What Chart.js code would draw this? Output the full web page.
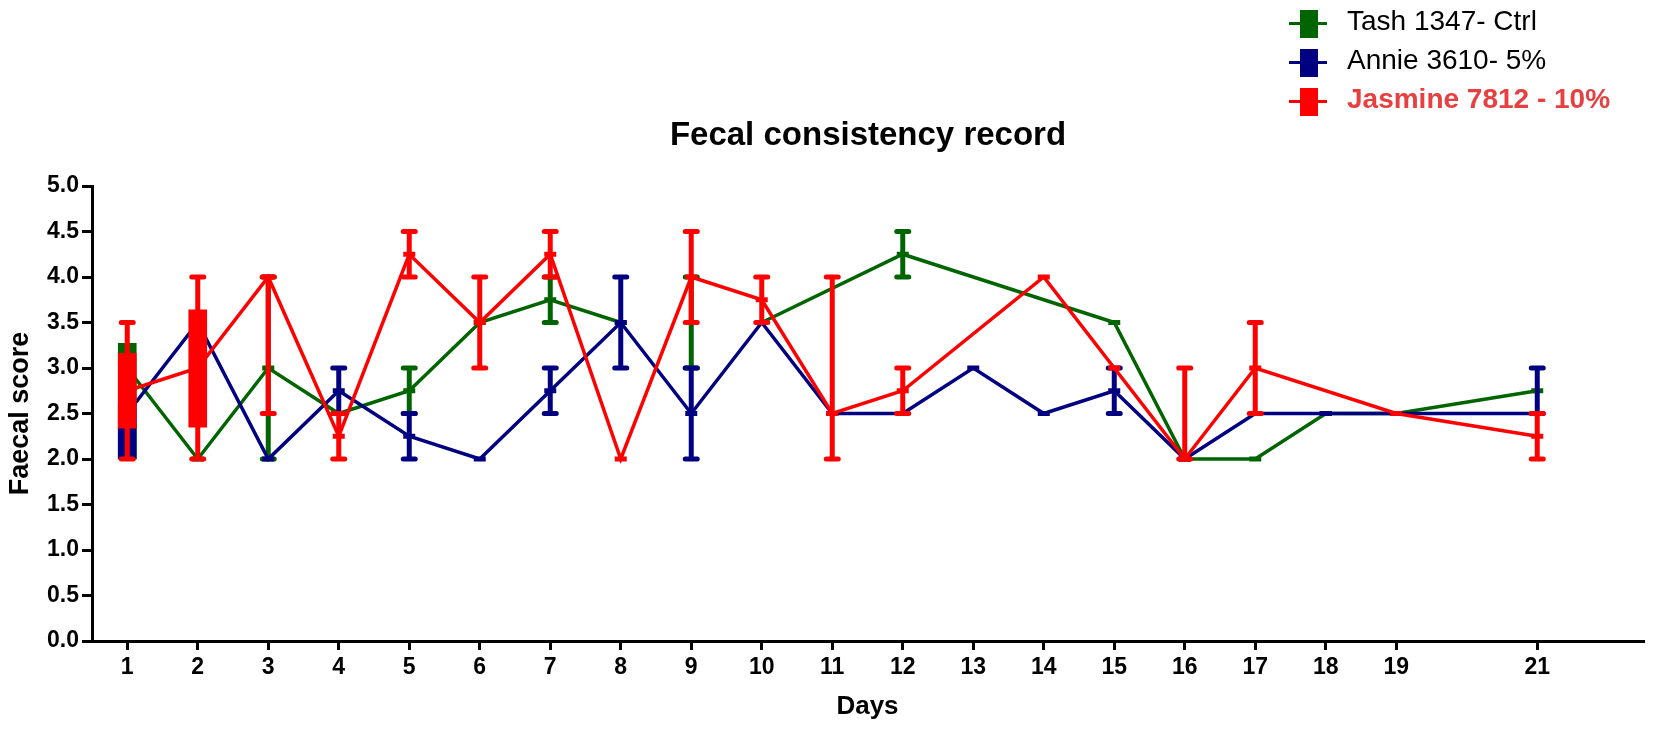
<!DOCTYPE html>
<html>
<head>
<meta charset="utf-8">
<script src="https://cdn.jsdelivr.net/npm/chart.js@4.4.1/dist/chart.umd.min.js"></script>
<style>
  body { margin: 0; background: #fff; }
  #wrap { position: relative; width: 1654px; height: 730px; }
  #title { position: absolute; left: 868px; top: 117px; transform: translateX(-50%); font: bold 33px/33px "Liberation Sans", Arial, sans-serif; color: #000; white-space: nowrap; }
  #legend { position: absolute; left: 1289px; top: 7px; font-family: "Liberation Sans", Arial, sans-serif; }
  .row { position: relative; height: 39px; }
  .sym { position: absolute; left: 0; top: 3px; width: 38px; height: 28px; }
  .sym .ln { position: absolute; left: 0; top: 12px; width: 38px; height: 3px; }
  .sym .bx { position: absolute; left: 11px; top: 0; width: 18px; height: 28px; }
  .txt { position: absolute; left: 58px; top: 0; font-size: 28px; line-height: 28px; white-space: nowrap; color: #000; }
</style>
</head>
<body>
<div id="wrap">
  <canvas id="fecal" width="1654" height="730"></canvas>
  <div id="title">Fecal consistency record</div>
  <div id="legend"></div>
</div>
<script>
const days = [1, 2, 3, 4, 5, 6, 7, 8, 9, 10, 11, 12, 13, 14, 15, 16, 17, 18, 19, 21];
const yTicks = [0, 0.5, 1, 1.5, 2, 2.5, 3, 3.5, 4, 4.5, 5];

const seriesNames = ["Tash 1347- Ctrl", "Annie 3610- 5%", "Jasmine 7812 - 10%"];
const seriesColors = ["#006400", "#000080", "#ff0000"];

// mean scores per day (null = no reading)
const tashMean = [3.0, 2.0, 3.0, 2.5, 2.75, 3.5, 3.75, 3.5, 3.5, 3.5, null, 4.25, null, null, 3.5, 2.0, 2.0, 2.5, 2.5, 2.75];
const tashLow  = [null, null, 2.0, null, 2.5, null, 3.5, null, 3.0, null, null, 4.0, null, null, null, null, null, null, null, null];
const tashHigh = [null, null, 4.0, null, 3.0, null, 4.0, null, 4.0, null, null, 4.5, null, null, null, null, null, null, null, null];
const tashBreaks = [8, 9]; // line not drawn after these days

const annieMean = [2.5, 3.5, 2.0, 2.75, 2.25, 2.0, 2.75, 3.5, 2.5, 3.5, 2.5, 2.5, 3.0, 2.5, 2.75, 2.0, 2.5, 2.5, 2.5, 2.5];
const annieLow  = [null, null, null, 2.5, 2.0, null, 2.5, 3.0, 2.0, null, null, null, null, null, 2.5, null, null, null, null, 2.5];
const annieHigh = [null, null, null, 3.0, 2.5, null, 3.0, 4.0, 3.0, null, null, null, null, null, 3.0, null, null, null, null, 3.0];

const jasmineMean = [2.75, 3.0, 4.0, 2.25, 4.25, 3.5, 4.25, 2.0, 4.0, 3.75, 2.5, 2.75, null, 4.0, 3.0, 2.0, 3.0, null, 2.5, 2.25];
const jasmineLow  = [2.0, 2.0, 2.5, 2.0, 4.0, 3.0, 4.0, null, 3.5, 3.5, 2.0, 2.5, null, null, null, 2.0, 2.5, null, null, 2.0];
const jasmineHigh = [3.5, 4.0, 4.0, 2.5, 4.5, 4.0, 4.5, null, 4.5, 4.0, 4.0, 3.0, null, null, null, 3.0, 3.5, null, null, 2.5];

// wide overlapping bars at the first two days
const boxDays  = [1, 1, 1, 2];
const boxLow   = [2.0, 2.0, 2.34, 2.35];
const boxHigh  = [3.27, 2.6, 3.16, 3.64];
const boxSeries = [0, 1, 2, 2];

const FONT = "'Liberation Sans', Arial, sans-serif";

function points(means) {
  return days.map((d, i) => ({ x: d, y: means[i] }));
}

function lineSet(idx, means, low, high, order, breaks) {
  const color = seriesColors[idx];
  return {
    type: "line",
    label: seriesNames[idx],
    data: points(means),
    errLow: low,
    errHigh: high,
    borderColor: color,
    backgroundColor: color,
    borderWidth: 3.5,
    tension: 0,
    spanGaps: true,
    pointStyle: "line",
    pointRadius: 6,
    pointBorderWidth: 5,
    pointBorderColor: color,
    order: order,
    segment: {
      borderColor: ctx =>
        breaks && breaks.includes(ctx.p0.parsed.x) ? "rgba(0,0,0,0)" : undefined,
    },
  };
}

const boxSet = {
  type: "bar",
  data: boxDays.map((d, i) => ({ x: d, y: [boxLow[i], boxHigh[i]] })),
  backgroundColor: boxSeries.map(s => seriesColors[s]),
  borderWidth: 0,
  barThickness: 18,
  grouped: false,
  order: 1,
};

const errorBars = {
  id: "errorBars",
  afterDatasetDraw(chart, args) {
    const ds = chart.data.datasets[args.index];
    if (!ds.errLow) return;
    const { ctx } = chart;
    const xs = chart.scales.x;
    const ys = chart.scales.y;
    ctx.save();
    ctx.strokeStyle = ds.borderColor;
    ctx.lineWidth = 5;
    for (let i = 0; i < days.length; i++) {
      if (ds.errLow[i] == null) continue;
      const x = xs.getPixelForValue(days[i]);
      const y1 = ys.getPixelForValue(ds.errLow[i]);
      const y2 = ys.getPixelForValue(ds.errHigh[i]);
      ctx.lineCap = "butt";
      ctx.beginPath();
      ctx.moveTo(x, y1);
      ctx.lineTo(x, y2);
      ctx.stroke();
      ctx.lineCap = "round";
      ctx.beginPath();
      ctx.moveTo(x - 6, y1);
      ctx.lineTo(x + 6, y1);
      ctx.moveTo(x - 6, y2);
      ctx.lineTo(x + 6, y2);
      ctx.stroke();
    }
    ctx.restore();
  },
};

const chart = new Chart(document.getElementById("fecal"), {
  type: "line",
  data: {
    datasets: [
      lineSet(2, jasmineMean, jasmineLow, jasmineHigh, 0, null),
      boxSet,
      lineSet(1, annieMean, annieLow, annieHigh, 2, null),
      lineSet(0, tashMean, tashLow, tashHigh, 3, tashBreaks),
    ],
  },
  options: {
    responsive: false,
    animation: false,
    layout: { padding: { top: 186, right: 7, left: 0, bottom: 0 } },
    plugins: {
      legend: { display: false },
      tooltip: { enabled: false },
      title: { display: false },
    },
    scales: {
      x: {
        type: "linear",
        min: 0.5,
        max: 22.5,
        offset: false,
        afterBuildTicks: scale => {
          scale.ticks = days.map(v => ({ value: v }));
        },
        afterFit: scale => {
          scale.height = 89;
        },
        ticks: {
          color: "#000",
          padding: 4,
          autoSkip: false,
          maxRotation: 0,
          font: { family: FONT, size: 23, weight: "bold" },
          callback: v => String(v),
        },
        grid: { offset: false, drawOnChartArea: false, color: "#000", lineWidth: 3, tickLength: 9 },
        border: { color: "#000", width: 3 },
        title: {
          display: true,
          text: "Days",
          color: "#000",
          font: { family: FONT, size: 26, weight: "bold" },
          padding: { top: 0, bottom: 8 },
        },
      },
      y: {
        min: 0,
        max: 5,
        afterBuildTicks: scale => {
          scale.ticks = yTicks.map(v => ({ value: v }));
        },
        afterFit: scale => {
          scale.width = 92;
        },
        ticks: {
          color: "#000",
          padding: 3,
          font: { family: FONT, size: 23, weight: "bold" },
          callback: v => Number(v).toFixed(1),
        },
        grid: { offset: false, drawOnChartArea: false, color: "#000", lineWidth: 3, tickLength: 10 },
        border: { color: "#000", width: 3 },
        title: {
          display: true,
          text: "Faecal score",
          color: "#000",
          font: { family: FONT, size: 27, weight: "bold" },
          padding: { top: 4, bottom: 0 },
        },
      },
    },
  },
  plugins: [errorBars],
});

// legend, one row per series
const legendEl = document.getElementById("legend");
seriesNames.forEach((name, i) => {
  const row = document.createElement("div");
  row.className = "row";
  row.innerHTML =
    '<div class="sym"><div class="ln"></div><div class="bx"></div></div><div class="txt"></div>';
  row.querySelector(".ln").style.background = seriesColors[i];
  row.querySelector(".bx").style.background = seriesColors[i];
  const txt = row.querySelector(".txt");
  txt.textContent = name;
  if (i === 2) {
    txt.style.color = "#e84040";
    txt.style.fontWeight = "bold";
  }
  legendEl.appendChild(row);
});
</script>
</body>
</html>
